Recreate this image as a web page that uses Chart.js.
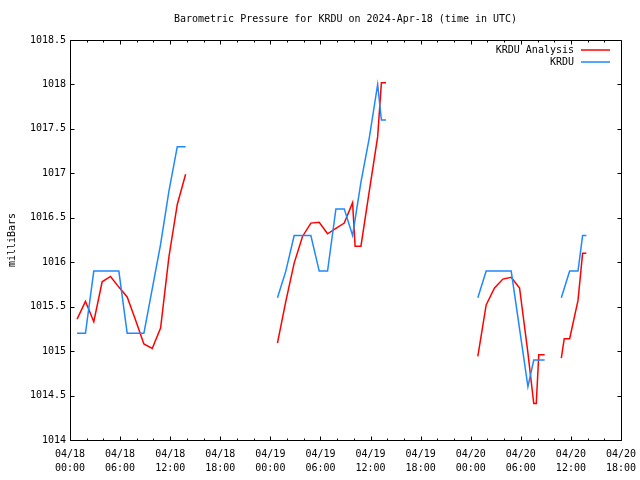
<!DOCTYPE html>
<html lang="en">
<head>
<meta charset="UTF-8">
<title>KRDU Barometric Pressure</title>
<script src="https://cdn.jsdelivr.net/npm/chart.js"></script>
<style>
  html, body { margin: 0; padding: 0; background: #fff; }
  canvas { display: block; }
</style>
</head>
<body>
<canvas id="grafico" width="640" height="480"></canvas>
<script>
// hours since 04/18 00:00 UTC, null = gap in the record
const obsHours = [0.85, 1.85, 2.85, 3.85, 4.85, 5.85, 6.85, 7.85, 8.85, 9.85, 10.85, 11.85, 12.85, 13.85, 19,
  24.85, 25.85, 26.85, 27.85, 28.85, 29.85, 30.85, 31.85, 32.85, 33.85, 34.85, 35.85, 36.85, 37.3, 37.85, 43,
  48.85, 49.85, 50.85, 51.85, 52.85, 53.85, 54.85, 55.55, 56.85, 57.8,
  58.85, 59.85, 60.85, 61.4, 61.85];
const obsPressure = [1015.2, 1015.2, 1015.9, 1015.9, 1015.9, 1015.9, 1015.2, 1015.2, 1015.2, 1015.7, 1016.2, 1016.8, 1017.3, 1017.3, null,
  1015.6, 1015.9, 1016.3, 1016.3, 1016.3, 1015.9, 1015.9, 1016.6, 1016.6, 1016.3, 1016.9, 1017.4, 1018.0, 1017.6, 1017.6, null,
  1015.6, 1015.9, 1015.9, 1015.9, 1015.9, 1015.25, 1014.6, 1014.9, 1014.9, null,
  1015.6, 1015.9, 1015.9, 1016.3, 1016.3];

const anaHours = [0.85, 1.85, 2.85, 3.85, 4.85, 5.85, 6.85, 7.85, 8.85, 9.85, 10.85, 11.85, 12.85, 13.85, 19,
  24.85, 25.85, 26.85, 27.85, 28.85, 29.85, 30.85, 31.85, 32.85, 33.85, 34.15, 34.85, 35.85, 36.85, 37.3, 37.85, 43,
  48.85, 49.85, 50.85, 51.85, 52.85, 53.85, 54.85, 55.55, 55.85, 56.15, 56.85, 57.8,
  58.85, 59.2, 59.85, 60.85, 61.4, 61.85];
const anaPressure = [1015.36, 1015.56, 1015.33, 1015.78, 1015.84, 1015.72, 1015.61, 1015.35, 1015.08, 1015.03, 1015.26, 1016.06, 1016.65, 1016.99, null,
  1015.09, 1015.56, 1015.99, 1016.29, 1016.44, 1016.45, 1016.32, 1016.38, 1016.44, 1016.67, 1016.18, 1016.18, 1016.8, 1017.41, 1018.02, 1018.02, null,
  1014.94, 1015.52, 1015.71, 1015.81, 1015.83, 1015.71, 1014.98, 1014.41, 1014.41, 1014.96, 1014.96, null,
  1014.92, 1015.14, 1015.14, 1015.57, 1016.1, 1016.1];

const xDays = ['04/18', '04/18', '04/18', '04/18', '04/19', '04/19', '04/19', '04/19', '04/20', '04/20', '04/20', '04/20'];
const xTimes = ['00:00', '06:00', '12:00', '18:00', '00:00', '06:00', '12:00', '18:00', '00:00', '06:00', '12:00', '18:00'];

const corAnalise = '#ff0000';
const corKrdu = '#1e88ff';
const fonte = '10px "DejaVu Sans Mono", "Liberation Mono", monospace';

function pontos(hs, vs) {
  return hs.map((h, i) => ({ x: h, y: vs[i] }));
}

// frame, inward ticks, title and legend like gnuplot
const moldura = {
  id: 'moldura',
  afterDraw(chart) {
    const c = chart.ctx;
    const a = chart.chartArea;
    const sx = chart.scales.x, sy = chart.scales.y;
    const L = a.left + 0.5, R = a.right + 0.5, T = a.top + 0.5, B = a.bottom + 0.5;
    c.save();
    c.strokeStyle = '#000';
    c.lineWidth = 1;
    c.beginPath();
    c.rect(L, T, R - L, B - T);
    for (let h = 0; h <= 66; h += 2) {
      const px = Math.round(sx.getPixelForValue(h)) + 0.5;
      const len = h % 6 === 0 ? 4 : 2;
      c.moveTo(px, B); c.lineTo(px, B - len);
      c.moveTo(px, T); c.lineTo(px, T + len);
    }
    for (let v = 1014; v <= 1018.5; v += 0.5) {
      const py = Math.round(sy.getPixelForValue(v)) + 0.5;
      c.moveTo(L, py); c.lineTo(L + 4, py);
      c.moveTo(R, py); c.lineTo(R - 4, py);
    }
    c.stroke();

    c.font = fonte;
    c.fillStyle = '#000';
    c.textBaseline = 'middle';
    c.textAlign = 'center';
    c.fillText('Barometric Pressure for KRDU on 2024-Apr-18 (time in UTC)', (a.left + a.right) / 2, 19);

    c.textAlign = 'right';
    const itens = [['KRDU Analysis', corAnalise], ['KRDU', corKrdu]];
    itens.forEach(([txt, cor], i) => {
      const y = 50 + i * 12;
      c.fillStyle = '#000';
      c.fillText(txt, 574, y);
      c.strokeStyle = cor;
      c.lineWidth = 1.5;
      c.beginPath();
      c.moveTo(581, y);
      c.lineTo(610, y);
      c.stroke();
    });
    c.restore();
  }
};

new Chart(document.getElementById('grafico'), {
  type: 'line',
  data: {
    datasets: [
      {
        label: 'KRDU Analysis',
        data: pontos(anaHours, anaPressure),
        borderColor: corAnalise,
        borderWidth: 1.5,
        pointRadius: 0,
        tension: 0,
        spanGaps: false,
        order: 1
      },
      {
        label: 'KRDU',
        data: pontos(obsHours, obsPressure),
        borderColor: corKrdu,
        borderWidth: 1.5,
        pointRadius: 0,
        tension: 0,
        spanGaps: false,
        order: 0
      }
    ]
  },
  options: {
    responsive: false,
    animation: false,
    layout: { padding: { top: 40, right: 19, left: 0, bottom: 0 } },
    plugins: {
      legend: { display: false },
      title: { display: false },
      tooltip: { enabled: false }
    },
    scales: {
      x: {
        type: 'linear',
        min: 0,
        max: 66,
        grid: { display: false, drawTicks: false },
        border: { display: false },
        afterFit: s => { s.height = 40; s.paddingLeft = 0; s.paddingRight = 0; },
        afterBuildTicks: s => { s.ticks = xTimes.map((t, i) => ({ value: i * 6 })); },
        ticks: {
          autoSkip: false,
          maxRotation: 0,
          padding: 7,
          color: '#000',
          font: { family: '"DejaVu Sans Mono"', size: 10, lineHeight: 1.4 },
          callback: (v) => [xDays[v / 6], xTimes[v / 6]]
        }
      },
      y: {
        min: 1014,
        max: 1018.5,
        grid: { display: false, drawTicks: false },
        border: { display: false },
        afterFit: s => { s.width = 70; },
        ticks: {
          stepSize: 0.5,
          padding: 4,
          color: '#000',
          font: { family: '"DejaVu Sans Mono"', size: 10 },
          callback: v => String(v)
        },
        title: {
          display: true,
          text: 'milliBars',
          color: '#000',
          padding: { top: 6, bottom: 0 },
          font: { family: '"DejaVu Sans Mono"', size: 10 }
        }
      }
    }
  },
  plugins: [moldura]
});
</script>
</body>
</html>
